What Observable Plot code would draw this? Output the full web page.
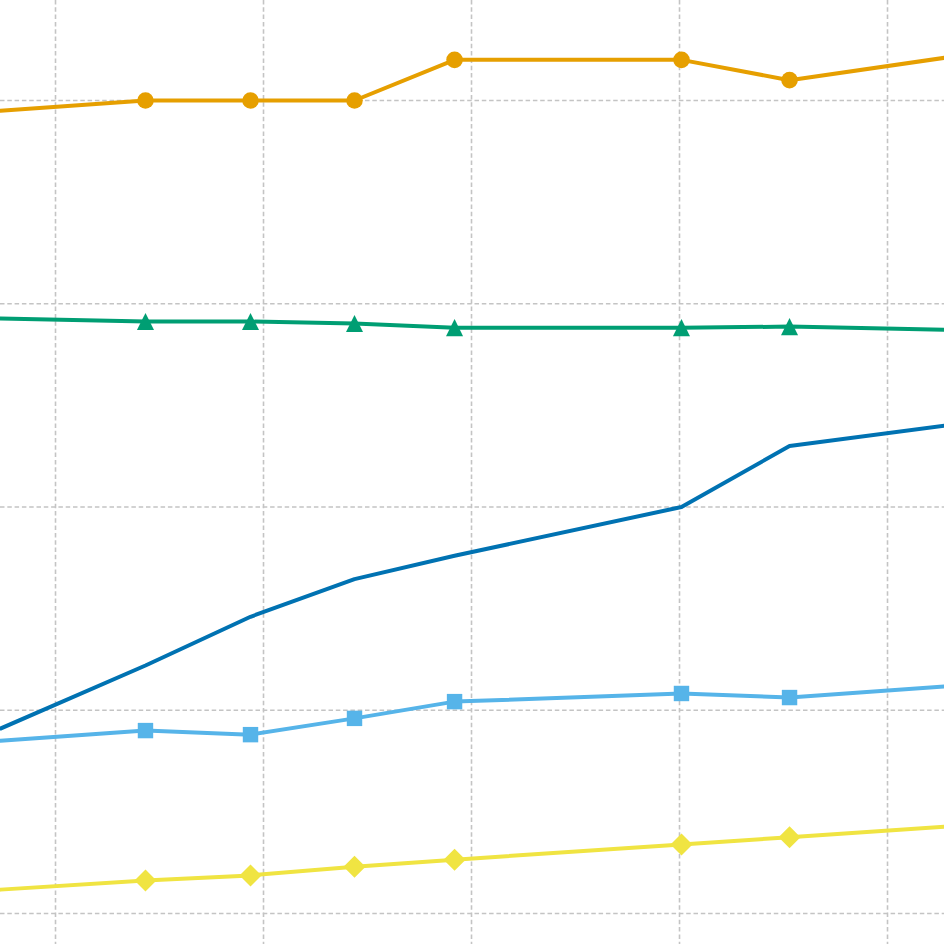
<!DOCTYPE html>
<html>
<head>
<meta charset="utf-8">
<script src="https://cdn.jsdelivr.net/npm/d3@7"></script>
<script src="https://cdn.jsdelivr.net/npm/@observablehq/plot@0.6"></script>
<style>
  html, body { margin: 0; padding: 0; background: #ffffff; overflow: hidden; }
  #chart svg { display: block; }
</style>
</head>
<body>
<div id="chart"></div>
<script>
// x positions (first and last are where the lines leave the visible window)
const xValues = [-0.529, 0.865, 1.875, 2.875, 3.837, 6.019, 7.058, 8.548];
const orangeValues = [79.0, 80.0, 80.0, 80.0, 84.0, 84.0, 82.0, 84.2];
const greenValues = [58.55, 58.25, 58.25, 58.05, 57.65, 57.65, 57.75, 57.45];
const darkBlueValues = [18.2, 24.4, 29.2, 32.9, 35.2, 40.0, 46.0, 48.0];
const skyBlueValues = [17.0, 18.0, 17.6, 19.2, 20.85, 21.65, 21.25, 22.35];
const yellowValues = [2.35, 3.25, 3.75, 4.6, 5.3, 6.8, 7.5, 8.55];
const xGridTicks = [0, 2, 4, 6, 8];
const yGridTicks = [0, 20, 40, 60, 80];

const triangleUp = {
  draw(context, size) {
    const h = Math.sqrt(size / 2);
    context.moveTo(0, -h);
    context.lineTo(h, h);
    context.lineTo(-h, h);
    context.closePath();
  }
};

const series = [
  {name: "orange", values: orangeValues, color: "#E69F00", symbol: "circle", r: 8.3, markers: true},
  {name: "green", values: greenValues, color: "#009E73", symbol: triangleUp, r: 6.8, markers: true},
  {name: "darkblue", values: darkBlueValues, color: "#0072B2", symbol: "circle", r: 0, markers: false},
  {name: "skyblue", values: skyBlueValues, color: "#56B4E9", symbol: "square", r: 8.7, markers: true},
  {name: "yellow", values: yellowValues, color: "#F0E442", symbol: "diamond2", r: 9.9, markers: true}
];

const marks = [
  Plot.ruleX(xGridTicks, {stroke: "#c4c4c4", strokeWidth: 1.6, strokeDasharray: "4.5,2.8"}),
  Plot.ruleY(yGridTicks, {stroke: "#c4c4c4", strokeWidth: 1.6, strokeDasharray: "4.5,2.8"})
];

for (const s of series) {
  const rows = xValues.map((x, i) => ({x, y: s.values[i], i}));
  marks.push(Plot.line(rows, {x: "x", y: "y", stroke: s.color, strokeWidth: 4, strokeLinejoin: "round"}));
  if (s.markers) {
    const inner = rows.filter(d => d.i > 0 && d.i < rows.length - 1);
    marks.push(Plot.dot(inner, {x: "x", y: "y", fill: s.color, stroke: "none", symbol: () => s.symbol, r: s.r}));
  }
}

const chart = Plot.plot({
  width: 944,
  height: 944,
  margin: 0,
  x: {domain: [-0.529, 8.548], axis: null},
  y: {domain: [-3.05, 89.84], axis: null},
  symbol: {type: "identity"},
  style: {background: "#ffffff"},
  marks
});
document.getElementById("chart").appendChild(chart);
</script>
</body>
</html>
